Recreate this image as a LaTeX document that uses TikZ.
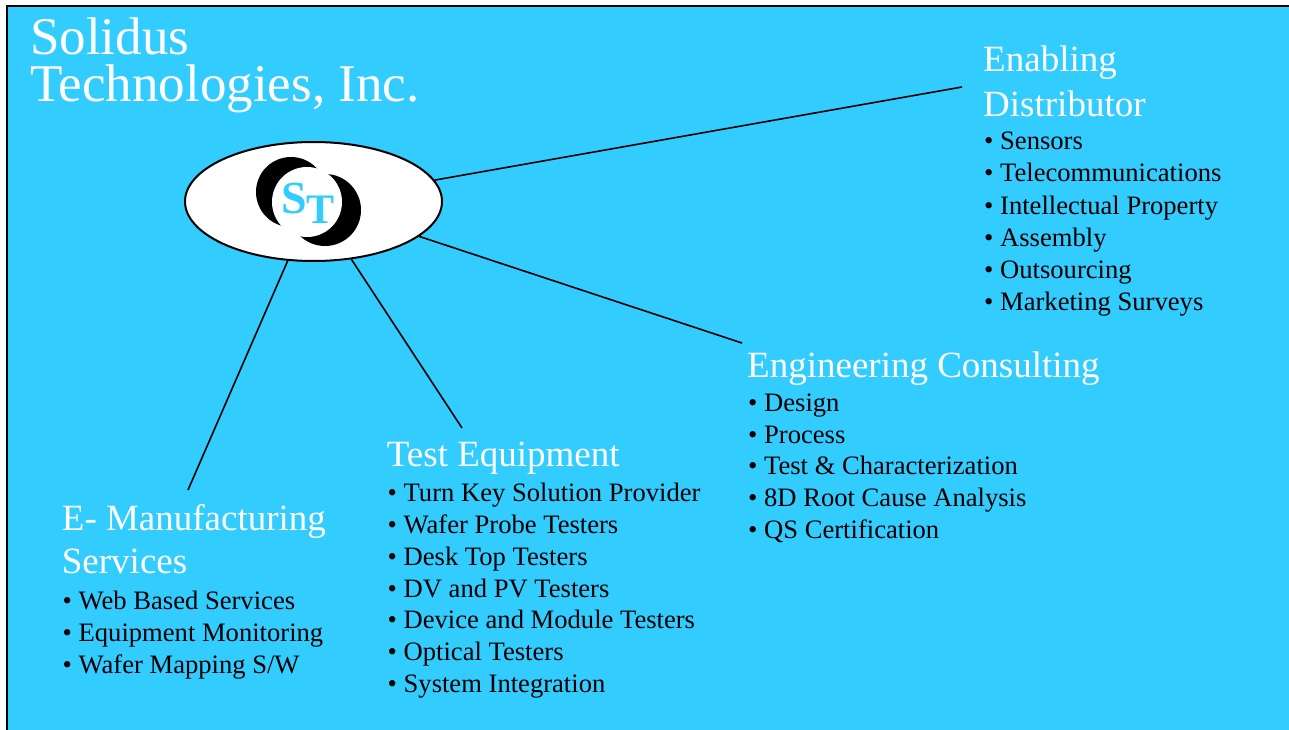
\documentclass[tikz,border=0pt]{standalone}
\usepackage{fontspec}
\setmainfont{Liberation Serif}
\usetikzlibrary{shapes.geometric}
\definecolor{stcyan}{RGB}{51,204,255}

\begin{document}
\begin{tikzpicture}[x=1pt,y=-1pt,
  title/.style={anchor=base west,inner sep=0,text=white,font=\fontsize{53}{47}\selectfont},
  head/.style={anchor=base west,inner sep=0,text=white,font=\fontsize{37}{44}\selectfont},
  item/.style={anchor=base west,inner sep=0,text=black,font=\fontsize{26.6}{32}\selectfont},
  link/.style={line width=1.6pt}]
\useasboundingbox (0,0) rectangle (1289,730);
\fill[stcyan] (7,5.7) rectangle (1289,730);
\draw[line width=2pt] (7,730) -- (7,5.7) -- (1289,5.7);
\node[title] (t1) at (30,55) {Solidus};
\node[title] (t2) at (30,102) {Technologies, Inc.};
\node[draw,ellipse,fill=white,line width=2pt,minimum width=257pt,minimum height=119pt,inner sep=0] (logo) at (313.5,201.5) {};
\fill (291,192) circle (35pt);
\fill (325,210) circle (36pt);
\fill[white] (307,202) circle (35pt);
\node[anchor=base west,inner sep=0,text=stcyan,font=\fontsize{46}{46}\selectfont\bfseries] (logoS) at (281,213) {S};
\node[anchor=base west,inner sep=0,text=stcyan,font=\fontsize{42}{42}\selectfont\bfseries] (logoT) at (306,223) {T};
\coordinate (edEnd) at (962,87);
\coordinate (ecEnd) at (742,343);
\coordinate (teEnd) at (462,428);
\coordinate (emEnd) at (188,490);
\draw[link] (logo) -- (edEnd);
\draw[link] (logo) -- (ecEnd);
\draw[link] (logo) -- (teEnd);
\draw[link] (logo) -- (emEnd);
\node[head] (ed1) at (983,72) {Enabling};
\node[head] (ed2) at (983,117) {Distributor};
\foreach \t [count=\i] in {Sensors,Telecommunications,Intellectual Property,Assembly,Outsourcing,Marketing Surveys}
  \node[item] (edi\i) at (984,{150+32*(\i-1)}) {\textbullet\ \t};
\node[head] (ec1) at (747,377) {Engineering Consulting};
\foreach \t [count=\i] in {Design,Process,Test \& Characterization,8D Root Cause Analysis,QS Certification}
  \node[item] (eci\i) at (748,{411.7+31.6*(\i-1)}) {\textbullet\ \t};
\node[head] (te1) at (386.7,466.7) {Test Equipment};
\foreach \t [count=\i] in {Turn Key Solution Provider,Wafer Probe Testers,Desk Top Testers,DV and PV Testers,Device and Module Testers,Optical Testers,System Integration}
  \node[item] (tei\i) at (387.5,{501.7+31.8*(\i-1)}) {\textbullet\ \t};
\node[head] (em1) at (61.7,530.7) {E- Manufacturing};
\node[head] (em2) at (61.7,573) {Services};
\foreach \t [count=\i] in {Web Based Services,Equipment Monitoring,Wafer Mapping S/W}
  \node[item] (emi\i) at (62.5,{609+32*(\i-1)}) {\textbullet\ \t};
\end{tikzpicture}
\end{document}
